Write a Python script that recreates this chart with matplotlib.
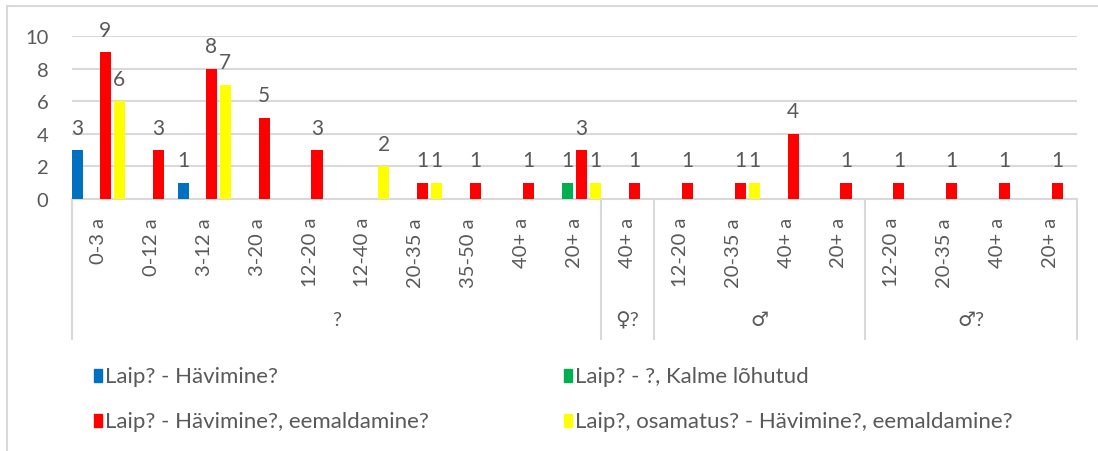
import numpy as np
import matplotlib.pyplot as plt
from matplotlib.lines import Line2D
from matplotlib.patches import Rectangle
import matplotlib.transforms as mtransforms

plt.rcParams['font.family'] = ['Lato', 'DejaVu Sans']

nan = np.nan
categories = ["0-3 a", "0-12 a", "3-12 a", "3-20 a", "12-20 a", "12-40 a", "20-35 a",
              "35-50 a", "40+ a", "20+ a",
              "40+ a",
              "12-20 a", "20-35 a", "40+ a", "20+ a",
              "12-20 a", "20-35 a", "40+ a", "20+ a"]
groups = ["?", "♀?", "♂", "♂?"]
group_sizes = [10, 1, 4, 4]

blue = [3, nan, 1, nan, nan, nan, nan, nan, nan, nan, nan, nan, nan, nan, nan, nan, nan, nan, nan]
green = [nan, nan, nan, nan, nan, nan, nan, nan, nan, 1, nan, nan, nan, nan, nan, nan, nan, nan, nan]
red = [9, 3, 8, 5, 3, nan, 1, 1, 1, 3, 1, 1, 1, 4, 1, 1, 1, 1, 1]
yellow = [6, nan, 7, nan, nan, 2, 1, nan, nan, 1, nan, nan, 1, nan, nan, nan, nan, nan, nan]

series_names = ["Laip? - Hävimine?", "Laip? - ?, Kalme lõhutud",
                "Laip? - Hävimine?, eemaldamine?", "Laip?, osamatus? - Hävimine?, eemaldamine?"]
series_values = [blue, green, red, yellow]
colors = ["#0070C0", "#00B050", "#FF0000", "#FFFF00"]

text_col = "#595959"
grid_col = "#D9D9D9"

fig = plt.figure(figsize=(10.98, 4.52), dpi=100)
W, H = 1098, 452
ax = fig.add_axes([72 / W, 1 - 200 / H, (1077 - 72) / W, (200 - 37) / H])

x = np.arange(len(categories))
offsets = [-0.395, -0.132, 0.132, 0.395]
for vals, col, off in zip(series_values, colors, offsets):
    v = np.array(vals, dtype=float)
    ax.bar(x + off, v, width=0.21, color=col, zorder=3)
    for xi, vi in zip(x, v):
        if not np.isnan(vi):
            ax.annotate(str(int(vi)), (xi + off, vi), xytext=(0, 9), textcoords='offset points',
                        ha='center', va='bottom', fontsize=15, color=text_col, clip_on=False)

ax.set_xlim(-0.5, len(categories) - 0.5)
ax.set_ylim(0, 10)
ax.set_yticks(range(0, 11, 2))
ax.yaxis.grid(True, color=grid_col, lw=1.5, zorder=0)
ax.tick_params(axis='y', length=0, pad=17, labelsize=14.5, labelcolor=text_col)
for s in ['top', 'right', 'left']:
    ax.spines[s].set_visible(False)
ax.spines['bottom'].set_color(grid_col)
ax.spines['bottom'].set_linewidth(1.5)

ax.set_xticks(x)
ax.set_xticklabels(categories, rotation=90, fontsize=14.5, color=text_col)
ax.tick_params(axis='x', length=0, pad=13)

# multi-level category axis
trans = mtransforms.blended_transform_factory(ax.transData, ax.transAxes)
ybot = -(340 - 200) / (200 - 37)
ylab = -(321 - 200) / (200 - 37)
edges = np.concatenate([[0], np.cumsum(group_sizes)]) - 0.5
for e in edges:
    ax.add_line(Line2D([e, e], [0, ybot], transform=trans, color=grid_col, lw=1.5, clip_on=False))
for g, a, b in zip(groups, edges[:-1], edges[1:]):
    ax.text((a + b) / 2, ylab, g, transform=trans, ha='center', va='center',
            fontsize=14.5, color=text_col)

# legend
leg_pos = [(94, 377), (564, 377), (94, 422), (564, 422)]
for name, col, (lx, ly) in zip(series_names, colors, leg_pos):
    fig.add_artist(Rectangle((lx / W, 1 - (ly + 6) / H), 8 / W, 13 / H, color=col,
                             transform=fig.transFigure))
    fig.text((lx + 11) / W, 1 - ly / H, name, ha='left', va='center', fontsize=16, color=text_col)

# chart border
fig.add_artist(Line2D([7 / W, 7 / W], [0, 1 - 7 / H], color=grid_col, lw=1.5))
fig.add_artist(Line2D([7 / W, 1], [1 - 7 / H, 1 - 7 / H], color=grid_col, lw=1.5))

fig.savefig("out.png", dpi=100)
